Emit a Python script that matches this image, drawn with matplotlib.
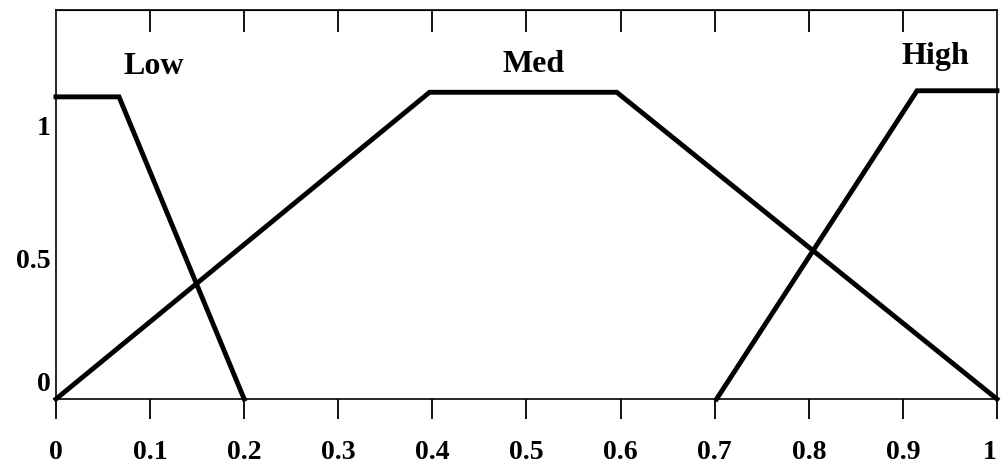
import matplotlib.pyplot as plt

# membership functions (breakpoints)
low_x = [0, 0.067, 0.2]
low_y = [0.99, 0.99, 0]
med_x = [0, 0.397, 0.596, 1.0]
med_y = [0, 1.005, 1.005, 0]
high_x = [0.702, 0.915, 1.0]
high_y = [0, 1.01, 1.01]

names = ['Low', 'Med', 'High']
name_x = [0.104, 0.508, 0.934]
name_y = [1.088, 1.095, 1.123]

xticks = [0, 0.1, 0.2, 0.3, 0.4, 0.5, 0.6, 0.7, 0.8, 0.9, 1]
xlabels = ['0', '0.1', '0.2', '0.3', '0.4', '0.5', '0.6', '0.7', '0.8', '0.9', '1']
ylabels = ['0', '0.5', '1']
ylabel_pos = [0.056, 0.461, 0.897]

plt.rcParams['font.family'] = ['Liberation Serif', 'DejaVu Serif']
plt.rcParams['font.weight'] = 'bold'

fig = plt.figure(figsize=(10.03, 4.70), dpi=100)
ax = fig.add_axes([0.0558, 0.151, 0.9382, 0.828])

for xs, ys in [(low_x, low_y), (med_x, med_y), (high_x, high_y)]:
    ax.plot(xs, ys, color='black', linewidth=3.5, clip_on=False,
            solid_joinstyle='miter')

for n, tx, ty in zip(names, name_x, name_y):
    ax.text(tx, ty, n, ha='center', va='center', fontsize=23, fontweight='bold')

ax.set_xlim(0, 1)
ax.set_ylim(0, 1.275)

ax.set_xticks(xticks)
ax.set_xticklabels(xlabels, fontsize=20, fontweight='bold')
ax.tick_params(axis='x', direction='out', length=14.5, width=1.3, pad=15)
# last label sits inside the figure edge
ax.get_xticklabels()[-1].set_horizontalalignment('right')

ax.set_yticks(ylabel_pos)
ax.set_yticklabels(ylabels, fontsize=20, fontweight='bold')
ax.tick_params(axis='y', length=0, pad=4)

# inward ticks along the top edge
top = ax.secondary_xaxis('top')
top.set_xticks(xticks[1:-1])
top.tick_params(direction='in', length=15.5, width=1.3, labeltop=False)

for s in ax.spines.values():
    s.set_linewidth(1.2)

fig.savefig('out.png', dpi=100)
